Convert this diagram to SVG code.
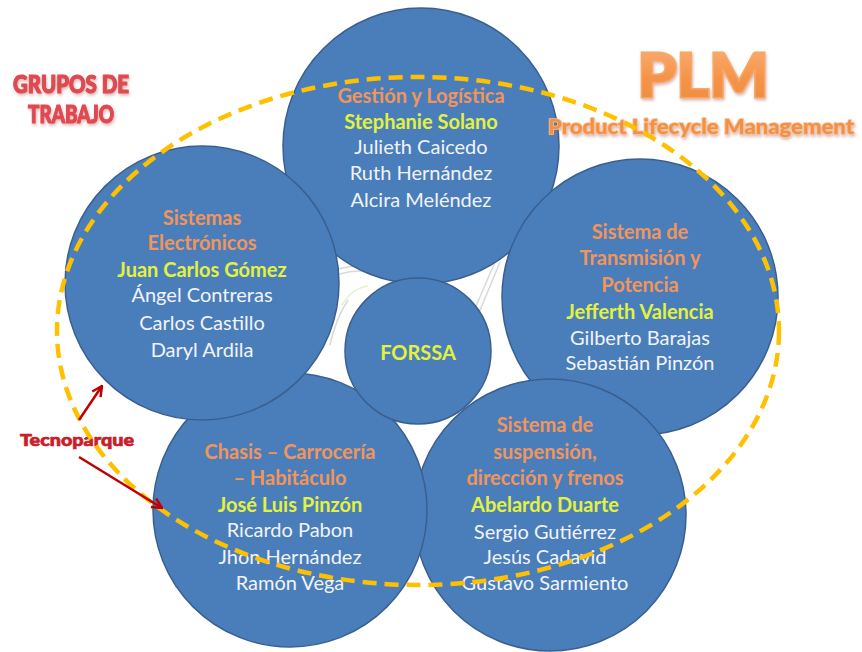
<svg xmlns="http://www.w3.org/2000/svg" width="862" height="652" viewBox="0 0 862 652">
  <style>
    .bubble { fill: #4A7EBB; stroke: #3A5F8E; stroke-width: 1.5; }
    .lbl { font-family: Lato, "Open Sans", "Liberation Sans", sans-serif; font-size: 20px; text-anchor: middle; }
    .area { fill: #F2955A; font-weight: bold; }
    .lead { fill: #E3F23F; font-weight: bold; }
    .member { fill: #F2F3F8; }
    .title { font-family: Lato, "Open Sans", "Liberation Sans", sans-serif; font-weight: 900; text-anchor: middle; paint-order: stroke; }
    .ring { fill: none; stroke: #FFC000; stroke-width: 4.5; stroke-dasharray: 14 8; }
    .pointer { fill: none; stroke: #C00000; stroke-width: 2.5; marker-end: url(#openHead); }
    .sketch { fill: none; stroke-width: 1.5; opacity: 0.45; }
  </style>
  <defs>
    <marker id="openHead" viewBox="0 0 10 10" refX="9" refY="5" markerWidth="5" markerHeight="5" orient="auto" markerUnits="strokeWidth">
      <path d="M1,1 L9,5 L1,9" fill="none" stroke="#C00000" stroke-width="2"/>
    </marker>
    <linearGradient id="plmFill" x1="0" y1="0" x2="0" y2="1">
      <stop offset="0" stop-color="#FBB27A"/>
      <stop offset="0.55" stop-color="#F5944A"/>
      <stop offset="1" stop-color="#EE8A3A"/>
    </linearGradient>
    <filter id="soft" x="-10%" y="-30%" width="120%" height="160%">
      <feGaussianBlur in="SourceAlpha" stdDeviation="1.5"/>
      <feOffset dx="1" dy="1.5" result="b"/>
      <feFlood flood-color="#B06060" flood-opacity="0.45"/>
      <feComposite in2="b" operator="in"/>
      <feMerge><feMergeNode/><feMergeNode in="SourceGraphic"/></feMerge>
    </filter>
  </defs>

  <rect width="862" height="652" fill="#FFFFFF"/>

  <!-- faint sketch lines behind the bubbles -->
  <g id="sketch-behind">
    <path class="sketch" d="M318,278 Q340,265 362,266" stroke="#A8A8A8"/>
    <path class="sketch" d="M320,283 Q342,270 362,271" stroke="#A8A8A8"/>
    <path class="sketch" d="M330,345 Q336,318 348,300" stroke="#A8A8A8"/>
    <path class="sketch" d="M342,305 Q352,288 368,286" stroke="#C6DDA0"/>
    <path class="sketch" d="M495,262 L470,320" stroke="#A8A8A8"/>
    <path class="sketch" d="M500,262 L476,320" stroke="#A8A8A8"/>
  </g>

  <!-- outer team bubbles -->
  <g id="node-gestion">
    <circle class="bubble" cx="421" cy="146" r="138"/>
    <text class="lbl area" x="421" y="103">Gestión y Logística</text>
    <text class="lbl lead" x="421" y="129">Stephanie Solano</text>
    <text class="lbl member" x="421" y="154">Julieth Caicedo</text>
    <text class="lbl member" x="421" y="180">Ruth Hernández</text>
    <text class="lbl member" x="421" y="207">Alcira Meléndez</text>
  </g>

  <g id="node-transmision">
    <circle class="bubble" cx="640" cy="297" r="138"/>
    <text class="lbl area" x="640" y="239">Sistema de</text>
    <text class="lbl area" x="640" y="265">Transmisión  y</text>
    <text class="lbl area" x="640" y="292">Potencia</text>
    <text class="lbl lead" x="640" y="319">Jefferth Valencia</text>
    <text class="lbl member" x="640" y="345">Gilberto Barajas</text>
    <text class="lbl member" x="640" y="370">Sebastián Pinzón</text>
  </g>

  <g id="node-suspension">
    <circle class="bubble" cx="550" cy="515" r="136"/>
    <text class="lbl area" x="545" y="432">Sistema de</text>
    <text class="lbl area" x="545" y="459">suspensión,</text>
    <text class="lbl area" x="545" y="485">dirección y frenos</text>
    <text class="lbl lead" x="545" y="512">Abelardo Duarte</text>
    <text class="lbl member" x="545" y="539">Sergio Gutiérrez</text>
    <text class="lbl member" x="545" y="564">Jesús Cadavid</text>
    <text class="lbl member" x="545" y="590">Gustavo Sarmiento</text>
  </g>

  <g id="node-chasis">
    <circle class="bubble" cx="290" cy="510" r="137"/>
    <text class="lbl area" x="290" y="459">Chasis – Carrocería</text>
    <text class="lbl area" x="290" y="485">– Habitáculo</text>
    <text class="lbl lead" x="290" y="512">José Luis Pinzón</text>
    <text class="lbl member" x="290" y="537">Ricardo Pabon</text>
    <text class="lbl member" x="290" y="564">Jhon Hernández</text>
    <text class="lbl member" x="290" y="590">Ramón Vega</text>
  </g>

  <g id="node-electronicos">
    <circle class="bubble" cx="202" cy="283" r="137"/>
    <text class="lbl area" x="202" y="225">Sistemas</text>
    <text class="lbl area" x="202" y="250">Electrónicos</text>
    <text class="lbl lead" x="202" y="277">Juan Carlos Gómez</text>
    <text class="lbl member" x="202" y="302">Ángel Contreras</text>
    <text class="lbl member" x="202" y="330">Carlos Castillo</text>
    <text class="lbl member" x="202" y="357">Daryl Ardila</text>
  </g>

  <!-- hub -->
  <g id="node-forssa">
    <circle class="bubble" cx="418" cy="351" r="73"/>
    <text class="lbl lead" x="418" y="360">FORSSA</text>
  </g>

  <!-- headings -->
  <g id="heading-grupos" filter="url(#soft)">
    <text class="title" x="71" y="93" font-size="24" fill="#E04850" stroke="#E04850" stroke-width="1.2" textLength="116" lengthAdjust="spacingAndGlyphs">GRUPOS DE</text>
    <text class="title" x="71" y="123" font-size="24" fill="#E04850" stroke="#E04850" stroke-width="1.2" textLength="86" lengthAdjust="spacingAndGlyphs">TRABAJO</text>
  </g>

  <g id="heading-plm" filter="url(#soft)">
    <text class="title" x="703" y="97" font-size="60" fill="url(#plmFill)" stroke="#F7A866" stroke-width="3" textLength="131" lengthAdjust="spacingAndGlyphs">PLM</text>
    <text class="title" x="701" y="134" font-size="21" fill="#F29048" stroke="#F8C08E" stroke-width="1.6" textLength="306" lengthAdjust="spacingAndGlyphs">Product Lifecycle  Management</text>
  </g>

  <g id="label-tecnoparque">
    <text class="title" x="77" y="446" font-size="17" fill="#C8202A" stroke="#C8202A" stroke-width="0.7" textLength="114" lengthAdjust="spacingAndGlyphs">Tecnoparque</text>
  </g>

  <!-- connectors: boundary ring and pointers -->
  <g id="connectors">
    <ellipse class="ring" cx="418" cy="331" rx="361" ry="254"/>
    <line class="pointer" x1="79" y1="420" x2="102" y2="386"/>
    <line class="pointer" x1="79" y1="457" x2="162" y2="508"/>
  </g>
</svg>
